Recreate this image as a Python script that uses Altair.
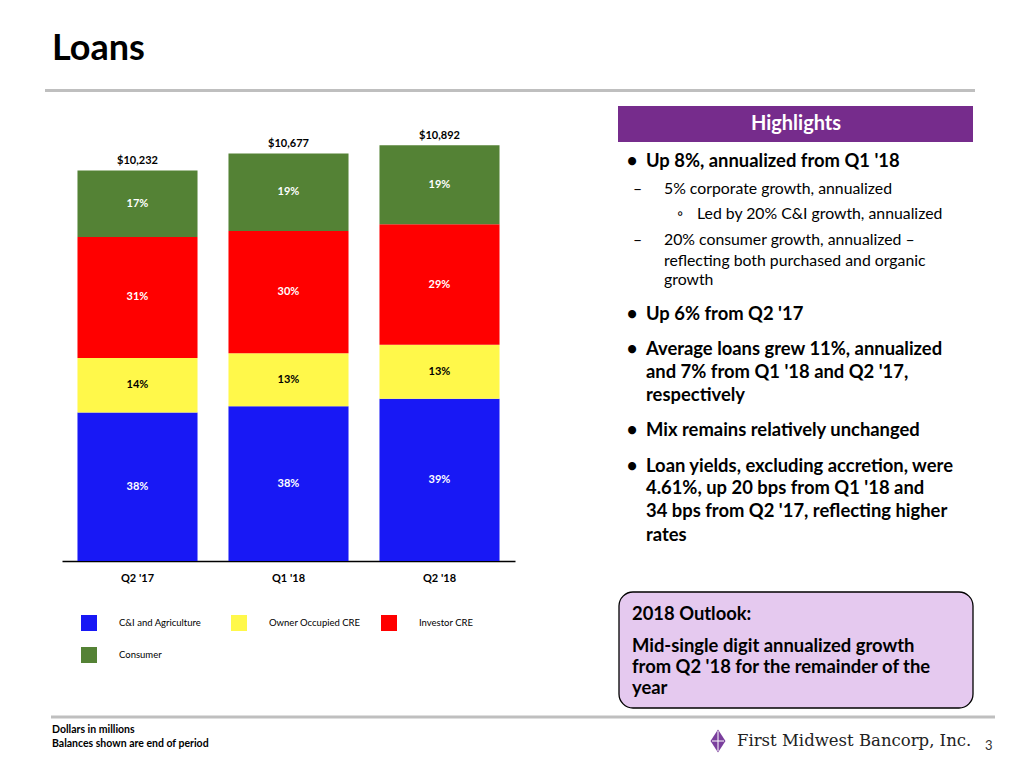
import altair as alt
import pandas as pd

# ---------------- data ----------------
quarters = ["Q2 '17", "Q1 '18", "Q2 '18"]
totals = [10232, 10677, 10892]
categories = ["C&I and Agriculture", "Owner Occupied CRE", "Investor CRE", "Consumer"]
colors = ["#1818F5", "#FFF84A", "#FF0000", "#548235"]

ci_ag_amt = [3888, 4057, 4248]
owner_occ_amt = [1432, 1388, 1416]
investor_amt = [3172, 3203, 3159]
consumer_amt = [1740, 2029, 2069]

ci_ag_pct = [38, 38, 39]
owner_occ_pct = [14, 13, 13]
investor_pct = [31, 30, 29]
consumer_pct = [17, 19, 19]

rows = []
for i, (cat, amts, pcts) in enumerate(zip(
        categories,
        [ci_ag_amt, owner_occ_amt, investor_amt, consumer_amt],
        [ci_ag_pct, owner_occ_pct, investor_pct, consumer_pct])):
    for q, a, p in zip(quarters, amts, pcts):
        rows.append(dict(quarter=q, category=cat, amount=a, pct=p, order=i))
df = pd.DataFrame(rows)
tot_df = pd.DataFrame(dict(quarter=quarters, total=totals))

FONT = "Lato"
OFF = 8  # page margin

# ---------------- chart ----------------
xscale = alt.Scale(domain=quarters, range=[54, 507], paddingInner=0.205, paddingOuter=0.1025)
yscale = alt.Scale(domain=[0, 12000], range=[553, 95], nice=False, zero=True)
xaxis = alt.Axis(title=None, labelAngle=0, labelFont=FONT, labelFontWeight="bold",
                 labelFontSize=11, labelColor="black", ticks=False, domainColor="black",
                 domainWidth=1.3, offset=-199, labelPadding=11, grid=False)
X = alt.X("quarter:N", scale=xscale, axis=xaxis)

bars = alt.Chart(df).mark_bar().encode(
    x=X,
    y=alt.Y("amount:Q", stack="zero", scale=yscale, axis=None),
    color=alt.Color("category:N", sort=categories,
                    scale=alt.Scale(domain=categories, range=colors),
                    legend=alt.Legend(orient="none", legendX=73, legendY=607, columns=3,
                                      direction="horizontal",
                                      title=None, symbolType="square", symbolSize=256,
                                      symbolStrokeWidth=0, labelFont=FONT, labelFontSize=9.5,
                                      labelColor="black", labelOffset=22, columnPadding=20,
                                      rowPadding=16, gridAlign="all")),
    order=alt.Order("order:Q", sort="ascending"),
)

stacked = alt.Chart(df).transform_stack(
    stack="amount", groupby=["quarter"], as_=["y0", "y1"],
    sort=[alt.SortField("order", order="ascending")]
).transform_calculate(mid="(datum.y0 + datum.y1) / 2", label="datum.pct + '%'")

pct_white = stacked.transform_filter(alt.datum.category != "Owner Occupied CRE").mark_text(
    font=FONT, fontSize=11, fontWeight="bold", color="white", baseline="middle"
).encode(x=X, y=alt.Y("mid:Q", scale=yscale, axis=None), text="label:N")

pct_black = stacked.transform_filter(alt.datum.category == "Owner Occupied CRE").mark_text(
    font=FONT, fontSize=11, fontWeight="bold", color="black", baseline="middle"
).encode(x=X, y=alt.Y("mid:Q", scale=yscale, axis=None), text="label:N")

tot_labels = alt.Chart(tot_df).mark_text(
    font=FONT, fontSize=11, fontWeight="bold", color="black", baseline="bottom", dy=-4
).encode(x=X, y=alt.Y("total:Q", scale=yscale, axis=None),
         text=alt.Text("total:Q", format="$,.0f"))

# ---------------- slide decorations ----------------
ONE = alt.Data(values=[{}])


def txt(s, x, y, size, bold=False, color="black", align="left", font=FONT):
    return alt.Chart(ONE).mark_text(
        text=s, align=align, baseline="middle", font=font, fontSize=size,
        fontWeight="bold" if bold else "normal", color=color
    ).encode(x=alt.value(x - OFF), y=alt.value(y - OFF))


def hline(x1, x2, y, color="#BFBFBF", width=3):
    return alt.Chart(ONE).mark_rule(color=color, strokeWidth=width).encode(
        x=alt.value(x1 - OFF), x2=alt.value(x2 - OFF), y=alt.value(y - OFF))


def box(x1, x2, y1, y2, fill, stroke=None, radius=0):
    kw = dict(color=fill, cornerRadius=radius)
    if stroke:
        kw.update(stroke=stroke, strokeWidth=1.3)
    return alt.Chart(ONE).mark_rect(**kw).encode(
        x=alt.value(x1 - OFF), x2=alt.value(x2 - OFF),
        y=alt.value(y1 - OFF), y2=alt.value(y2 - OFF))


layers = [
    hline(45, 975, 90.5),
    hline(51, 995, 717),
    box(618, 973, 106, 142, "#762C8C"),
    box(619, 973, 592, 708, "#E5C9EF", stroke="black", radius=14),
    txt("Loans", 52, 49, 36, bold=True),
    txt("Highlights", 796, 124, 20, bold=True, color="white", align="center"),
]

BOLD = 18.4
REG = 15.8
bullets = [
    ("•", 632, 160.5, "Up 8%, annualized from Q1 '18"),
    ("•", 632, 314, "Up 6% from Q2 '17"),
    ("•", 632, 349, "Average loans grew 11%, annualized"),
    (None, 0, 372, "and 7% from Q1 '18 and Q2 '17,"),
    (None, 0, 395, "respectively"),
    ("•", 632, 430, "Mix remains relatively unchanged"),
    ("•", 632, 465.5, "Loan yields, excluding accretion, were"),
    (None, 0, 488, "4.61%, up 20 bps from Q1 '18 and"),
    (None, 0, 511, "34 bps from Q2 '17, reflecting higher"),
    (None, 0, 535, "rates"),
]
for b, bx, y, s in bullets:
    if b:
        layers.append(txt(b, bx, y, BOLD, bold=True, align="center"))
    layers.append(txt(s, 646, y, BOLD, bold=True))

subs = [
    ("–", 633, 664, 189, "5% corporate growth, annualized"),
    ("◦", 677, 697, 214, "Led by 20% C&I growth, annualized"),
    ("–", 633, 664, 240, "20% consumer growth, annualized –"),
    (None, 0, 664, 260.5, "reflecting both purchased and organic"),
    (None, 0, 664, 280, "growth"),
]
for b, bx, tx, y, s in subs:
    if b:
        layers.append(txt(b, bx, y, REG))
    layers.append(txt(s, tx, y, REG))

outlook = [
    (614, "2018 Outlook:"),
    (646, "Mid-single digit annualized growth"),
    (666.5, "from Q2 '18 for the remainder of the"),
    (688, "year"),
]
for y, s in outlook:
    layers.append(txt(s, 632, y, BOLD, bold=True))

layers += [
    txt("Dollars in millions", 52, 730, 10.5, bold=True),
    txt("Balances shown are end of period", 52, 744, 10.5, bold=True),
    txt("First Midwest Bancorp, Inc.", 737, 741, 16.5, color="#222222", font="DejaVu Serif"),
    txt("3", 985, 746, 13, color="#333333"),
    alt.Chart(ONE).mark_point(shape="M0,-1L0.65,0L0,1L-0.65,0Z", filled=True, color="#7A3E9D",
                              opacity=1, size=529).encode(x=alt.value(718 - OFF), y=alt.value(741 - OFF)),
    alt.Chart(ONE).mark_rule(color="white", strokeWidth=1).encode(
        x=alt.value(718 - OFF), y=alt.value(731 - OFF), y2=alt.value(751 - OFF)),
    alt.Chart(ONE).mark_rule(color="white", strokeWidth=1).encode(
        x=alt.value(712 - OFF), x2=alt.value(724 - OFF), y=alt.value(741 - OFF)),
]

chart = alt.layer(bars, pct_white, pct_black, tot_labels, *layers).properties(
    width=1008, height=752, padding=0,
    autosize=alt.AutoSizeParams(type="none"),
).configure_view(stroke=None)

chart.save("out.html", embed_options={"renderer": "svg", "actions": False})
